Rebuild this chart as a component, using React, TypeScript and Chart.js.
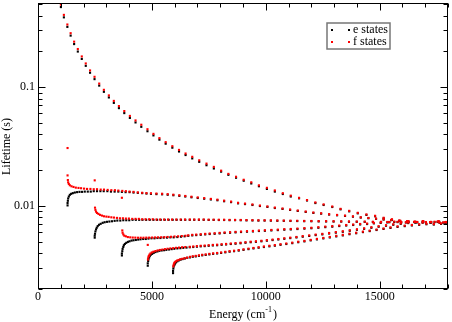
import { useEffect, useRef } from "react";
import { Chart, registerables } from "chart.js";

Chart.register(...registerables);

// ---- axis ticks / labels ----
const xTickLabels = [0, 5000, 10000, 15000];
const yTickLabels = [0.01, 0.1];
const seriesNames = ["e states", "f states"];

// ---- main (descending) branch ----
const mainX = [1005,1136,1289,1433,1586,1748,1922,2097,2285,2482,2687,2892,3111,3329,3552,3788,4033,4282,4535,4806,5068,5330,5605,5898,6191,6479,6772,7078,7397,7720,8039,8358,8694,9031,9363,9699,10049,10398,10748,11097,11460,11810,12177,12539,12919,13282,13662,14038,14418,14798,15174,15541,15903,16270,16650,17030,17410,17790];
const mainEY = [0.471,0.386,0.321,0.271,0.23,0.199,0.1725,0.1509,0.132,0.1166,0.1029,0.0912,0.0818,0.0736,0.0665,0.0604,0.055,0.0504,0.0463,0.0425,0.0392,0.0361,0.0334,0.0309,0.0287,0.0268,0.0251,0.0235,0.022,0.02065,0.01942,0.01827,0.01726,0.0163,0.01545,0.01464,0.0139,0.0132,0.01259,0.012,0.01159,0.01111,0.01057,0.01018,0.00979,0.00936,0.009,0.00866,0.0084,0.00818,0.00787,0.00764,0.00743,0.00735,0.00727,0.00725,0.0073,0.00722];
const mainFY = [0.494,0.405,0.336,0.284,0.241,0.209,0.181,0.158,0.138,0.122,0.107,0.0948,0.0851,0.0765,0.0692,0.0628,0.0572,0.0524,0.0482,0.0442,0.0404,0.0372,0.0344,0.0318,0.0296,0.0276,0.0259,0.0242,0.0227,0.0213,0.0198,0.0186,0.0176,0.0166,0.0158,0.0149,0.0142,0.0135,0.0128,0.0122,0.0117,0.0112,0.0107,0.0103,0.00989,0.00945,0.00909,0.00875,0.00848,0.00826,0.00795,0.00772,0.0075,0.0074,0.00733,0.00731,0.00736,0.00727];

// ---- band 1 ----
const b1EX = [1298,1298,1311,1324,1354,1398,1455,1529,1617,1717,1822,1935,2053,2185,2316,2447,2591,2739,2884,3045,3203,3364,3526,3683,3845,4019,4194,4382,4574,4762,4959,5199,5448,5693,5942,6204,6466,6737,7012,7296,7589,7877,8170,8476,8782,9088,9415,9743,10071,10398,10735,11067,11403,11753,12089,12430,12780,13129,13479,13828,14169,14505,14841,15174,15510,15860,16209,16559,16908,17258,17607,17957];
const b1EY = [0.0101,0.01057,0.01105,0.01155,0.012,0.0124,0.01264,0.01281,0.01296,0.01306,0.01313,0.01313,0.0132,0.0132,0.0132,0.01331,0.01331,0.01331,0.01331,0.01331,0.0132,0.0132,0.0132,0.01313,0.01306,0.01306,0.01296,0.01288,0.01281,0.01271,0.01264,0.01257,0.01252,0.01242,0.0123,0.01216,0.012,0.01182,0.01166,0.0115,0.01133,0.01116,0.01095,0.01076,0.01051,0.01036,0.01018,0.00998,0.00981,0.0096,0.00943,0.00925,0.00907,0.0089,0.00873,0.00861,0.00846,0.00834,0.00824,0.00812,0.00798,0.00788,0.00779,0.00768,0.00759,0.0075,0.00743,0.00734,0.00741,0.00728,0.00736,0.00722];
const b1FHeadX = [1298,1298,1311,1324,1354,1398,1472,1560,1660,1778,1892,2023,2154,2302,2447,2591,2752,2897,3058,3220,3377,3526,3701,3858,4019,4194,4382,4574,4762];
const b1FHeadY = [0.0307,0.01806,0.01651,0.0158,0.0153,0.01492,0.01463,0.01444,0.01425,0.01417,0.01409,0.01398,0.0139,0.0139,0.01382,0.01382,0.01372,0.01372,0.01364,0.01356,0.01356,0.01346,0.01338,0.01331,0.0132,0.01313,0.013,0.0129,0.01281];
const b1FTailFrom = 30;
const b1FTailY = [0.01278,0.01271,0.01266,0.01256,0.01243,0.01229,0.01213,0.01195,0.01179,0.01163,0.01146,0.01129,0.01108,0.01088,0.01063,0.01047,0.01029,0.01008,0.0099,0.00969,0.00951,0.00933,0.00915,0.00897,0.0088,0.00867,0.00852,0.0084,0.00829,0.00817,0.00803,0.00792,0.00783,0.00772,0.00763,0.00754,0.00746,0.00738,0.00745,0.00731,0.0074,0.00726];

// ---- band 2 ----
const b2EX = [2490,2490,2503,2521,2547,2578,2621,2678,2752,2840,2927,3028,3133,3246,3364,3482,3613,3744,3875,4006,4151,4295,4443,4587,4749,4906,5068,5230,5387,5562,5736,5911,6086,6278,6466,6663,6859,7065,7274,7493,7711,7939,8170,8410,8651,8900,9153,9415,9677,9948,10223,10507,10791,11084,11381,11687,12002,12321,12648,12976,13312,13653,13994,14344,14702,15060,15423,15785,16152,16515,16886,17258,17629];
const b2EY = [0.00541,0.00562,0.00583,0.0061,0.00634,0.00655,0.00676,0.00694,0.00707,0.00721,0.00729,0.00735,0.00739,0.00743,0.00749,0.00753,0.00753,0.00758,0.00758,0.00758,0.00764,0.00764,0.00764,0.00764,0.00764,0.00764,0.00764,0.00764,0.00764,0.00764,0.00764,0.00764,0.00764,0.00764,0.00764,0.00764,0.00764,0.00764,0.00764,0.00762,0.00762,0.00761,0.00761,0.00759,0.00759,0.00758,0.00756,0.00755,0.00753,0.00753,0.00752,0.0075,0.00749,0.00747,0.00746,0.00744,0.00743,0.00741,0.0074,0.00739,0.00738,0.00736,0.00735,0.00734,0.00732,0.00731,0.00729,0.00731,0.00725,0.00732,0.00722,0.0073,0.00721];
const b2FHeadX = [2490,2503,2521,2547,2591,2652,2722,2809,2897,3001,3102,3220,3334,3465,3596,3727,3858,3989,4137,4282,4426,4574,4719,4880,5037,5199,5361,5536,5710,5885,6073,6261,6453];
const b2FHeadY = [0.01641,0.00967,0.00927,0.00895,0.00873,0.00857,0.00841,0.00829,0.00818,0.00813,0.00809,0.00802,0.00798,0.00793,0.00787,0.00787,0.00783,0.00783,0.00778,0.00778,0.00778,0.00772,0.00772,0.00772,0.00772,0.00768,0.00768,0.00768,0.00768,0.00768,0.00768,0.00768,0.00768];
const b2FTailFrom = 35;
const b2FTailY = [0.00768,0.00768,0.00768,0.00768,0.00766,0.00766,0.00765,0.00765,0.00763,0.00763,0.00762,0.0076,0.00759,0.00757,0.00757,0.00756,0.00754,0.00753,0.00751,0.0075,0.00748,0.00747,0.00745,0.00744,0.00743,0.00742,0.0074,0.00739,0.00738,0.00736,0.00735,0.00733,0.00735,0.00729,0.00736,0.00726,0.00734,0.00725];

// ---- band 3 ----
const b3EX = [3683,3683,3701,3714,3744,3770,3814,3875,3945,4019,4107,4194,4295,4400,4500,4618,4732,4850,4981,5112,5243,5374,5518,5667,5811,5955,6117,6278,6436,6597,6772,6947,7143,7340,7537,7755,7974,8192,8432,8672,8913,9175,9437,9699,9961,10245,10529,10813,11097,11390,11696,12002,12308,12613,12919,13225,13531,13837,14143,14448,14745,15043,15335,15641,15947,16253,16559,16886,17214,17542,17869];
const b3EY = [0.00383,0.00398,0.00416,0.00435,0.00452,0.00467,0.00479,0.00489,0.00498,0.00504,0.00511,0.00514,0.00517,0.00521,0.00524,0.00527,0.00527,0.00531,0.00534,0.00534,0.00537,0.00537,0.00541,0.00541,0.00544,0.00544,0.00547,0.00551,0.00555,0.0056,0.00565,0.00568,0.00572,0.00576,0.0058,0.00583,0.00587,0.00592,0.00595,0.00599,0.00603,0.00607,0.0061,0.00615,0.00618,0.00622,0.00626,0.00631,0.00634,0.00639,0.00644,0.00649,0.00655,0.00663,0.00669,0.00677,0.00684,0.00691,0.00698,0.00704,0.00713,0.0072,0.00726,0.00732,0.00726,0.00735,0.00725,0.00735,0.00725,0.00732,0.00722];
const b3FHeadX = [3683,3701,3714,3744,3788,3858,3945,4050,4159,4273,4391,4509,4631,4754,4880,5011,5142,5273,5409,5549,5693,5841,5994,6152,6313,6475];
const b3FHeadY = [0.01171,0.00622,0.00595,0.00576,0.00562,0.00555,0.00547,0.00544,0.00542,0.00541,0.0054,0.0054,0.0054,0.00541,0.00541,0.00542,0.00543,0.00544,0.00545,0.00546,0.00548,0.0055,0.00553,0.00555,0.00558,0.00561];
const b3FTailFrom = 29;
const b3FTailY = [0.00566,0.00571,0.00574,0.00578,0.00582,0.00586,0.00589,0.00593,0.00598,0.00601,0.00605,0.00609,0.00613,0.00616,0.00621,0.00624,0.00628,0.00632,0.00637,0.0064,0.00645,0.0065,0.00655,0.00662,0.0067,0.00676,0.00684,0.00691,0.00698,0.00705,0.00711,0.0072,0.00727,0.00733,0.00739,0.00733,0.00742,0.00732,0.00742,0.00732,0.00739,0.00729];

// ---- band 4 ----
const b4EX = [4819,4819,4837,4850,4880,4906,4950,5011,5081,5155,5243,5330,5431,5536,5636,5754,5868,5986,6117,6248,6379,6519,6663,6816,6977,7143,7318,7493,7676,7864,8061,8257,8463,8672,8891,9109,9337,9568,9808,10049,10298,10551,10813,11075,11346,11622,11906,12190,12482,12779,13076,13382,13688,14003,14317,14636,14955,15279,15597,15925,16253,16581,16908,17245,17577,17913];
const b4EY = [0.00314,0.00329,0.00344,0.00357,0.00369,0.00379,0.00388,0.00395,0.00403,0.00409,0.00414,0.00419,0.00422,0.00424,0.00427,0.0043,0.00433,0.00436,0.00439,0.00441,0.00444,0.00446,0.00449,0.00451,0.00454,0.00457,0.00459,0.00462,0.00465,0.00467,0.00471,0.00474,0.00478,0.00481,0.00485,0.0049,0.00495,0.00499,0.00504,0.0051,0.00516,0.00522,0.00529,0.00536,0.00543,0.00551,0.00559,0.00568,0.00576,0.00586,0.00596,0.00606,0.00618,0.0063,0.00642,0.00655,0.00668,0.00681,0.00694,0.00707,0.00717,0.00725,0.00733,0.00725,0.00735,0.00726];
const b4FHeadX = [4819,4828,4841,4863,4893,4937,4994,5068,5155,5252,5352,5461,5571,5689,5811,5933,6060,6191,6326,6466];
const b4FHeadY = [0.0047,0.00354,0.00368,0.00379,0.00389,0.00398,0.00406,0.00412,0.00417,0.00422,0.00426,0.00429,0.00433,0.00436,0.00439,0.00441,0.00444,0.00446,0.00449,0.00451];
const b4FTailFrom = 22;
const b4FTailY = [0.00453,0.00456,0.00459,0.00462,0.00464,0.00467,0.0047,0.00472,0.00476,0.00479,0.00483,0.00486,0.0049,0.00495,0.005,0.00504,0.00509,0.00515,0.00521,0.00527,0.00534,0.00541,0.00548,0.00557,0.00565,0.00574,0.00582,0.00592,0.00602,0.00612,0.00624,0.00636,0.00648,0.00662,0.00675,0.00688,0.00701,0.00714,0.00724,0.00732,0.0074,0.00732,0.00742,0.00733];

// ---- band 5 ----
const b5EX = [5929,5929,5942,5955,5986,6016,6060,6117,6182,6261,6348,6444,6554,6671,6794,6925,7065,7209,7362,7523,7689,7864,8039,8223,8411,8607,8812,9022,9240,9459,9686,9918,10158,10398,10647,10901,11163,11425,11696,11971,12246,12526,12810,13094,13382,13675,13968,14265,14562,14863,15169,15475,15785,16100,16414,16733,17052,17376,17694];
const b5EY = [0.00272,0.00284,0.00297,0.00309,0.00318,0.00327,0.00335,0.00342,0.00348,0.00353,0.00357,0.00361,0.00366,0.00369,0.00373,0.00376,0.0038,0.00384,0.00387,0.00391,0.00395,0.00398,0.00402,0.00407,0.00412,0.00416,0.00421,0.00427,0.00433,0.00439,0.00445,0.00451,0.00457,0.00463,0.00471,0.00478,0.00486,0.00495,0.00503,0.00513,0.00523,0.00533,0.00543,0.00554,0.00565,0.00578,0.00589,0.00602,0.00614,0.00627,0.0064,0.00653,0.00666,0.00676,0.00685,0.00694,0.00701,0.00697,0.00706];
const b5FHeadX = [5942,5955,5977,6008,6051,6108,6174,6248,6335,6431,6541];
const b5FHeadY = [0.0031,0.0032,0.00329,0.00336,0.00342,0.00347,0.00351,0.00356,0.00359,0.00363,0.00367];
const b5FTailFrom = 13;
const b5FTailY = [0.00373,0.00377,0.0038,0.00384,0.00388,0.00391,0.00395,0.00399,0.00402,0.00406,0.00411,0.00416,0.0042,0.00425,0.00431,0.00437,0.00443,0.00449,0.00456,0.00462,0.00468,0.00476,0.00483,0.00491,0.005,0.00508,0.00518,0.00528,0.00538,0.00548,0.0056,0.00571,0.00584,0.00595,0.00608,0.0062,0.00633,0.00646,0.0066,0.00673,0.00683,0.00692,0.00701,0.00708,0.00704,0.00713];

type Pt = { x: number; y: number };
function zip(xs: number[], ys: number[]): Pt[] {
  const n = Math.min(xs.length, ys.length);
  const out: Pt[] = [];
  for (let i = 0; i < n; i++) out.push({ x: xs[i], y: ys[i] });
  return out;
}
function band(ex: number[], headX: number[], headY: number[], from: number, tailY: number[]): Pt[] {
  return [...zip(headX, headY), ...zip(ex.slice(from), tailY)];
}

const ePoints: Pt[] = [
  ...zip(mainX, mainEY),
  ...zip(b1EX, b1EY),
  ...zip(b2EX, b2EY),
  ...zip(b3EX, b3EY),
  ...zip(b4EX, b4EY),
  ...zip(b5EX, b5EY),
];
const fPoints: Pt[] = [
  ...zip(mainX, mainFY),
  ...band(b1EX, b1FHeadX, b1FHeadY, b1FTailFrom, b1FTailY),
  ...band(b2EX, b2FHeadX, b2FHeadY, b2FTailFrom, b2FTailY),
  ...band(b3EX, b3FHeadX, b3FHeadY, b3FTailFrom, b3FTailY),
  ...band(b4EX, b4FHeadX, b4FHeadY, b4FTailFrom, b4FTailY),
  ...band(b5EX, b5FHeadX, b5FHeadY, b5FTailFrom, b5FTailY),
];

const FONT = '"Liberation Serif", "Times New Roman", serif';
const E_COLOR = "#000000";
const F_COLOR = "#ff0000";

const decorPlugin = {
  id: "decor",
  afterDraw(chart: any) {
    const { ctx, chartArea: a, scales } = chart;
    const xs = scales.x;
    const ys = scales.y;
    const L = Math.round(a.left) + 0.5;
    const R = Math.round(a.right) - 0.5;
    const T = Math.round(a.top) - 0.5;
    const B = Math.round(a.bottom) - 0.5;
    ctx.save();
    ctx.strokeStyle = "#000";
    ctx.lineWidth = 1;
    ctx.strokeRect(L, T, R - L, B - T);
    ctx.beginPath();
    for (let v = 0; v <= 18000; v += 1000) {
      const px = Math.round(xs.getPixelForValue(v)) + 0.5;
      const len = v % 5000 === 0 ? 7 : 4;
      ctx.moveTo(px, B);
      ctx.lineTo(px, B - len);
      ctx.moveTo(px, T);
      ctx.lineTo(px, T + len);
    }
    for (const dec of [0.001, 0.01, 0.1]) {
      for (let m = 1; m <= 9; m++) {
        const v = m * dec;
        if (v < 0.002 - 1e-9 || v > 0.5 + 1e-9) continue;
        const py = Math.round(ys.getPixelForValue(v)) + 0.5;
        const len = m === 1 ? 7 : 4;
        ctx.moveTo(L, py);
        ctx.lineTo(L + len, py);
        ctx.moveTo(R, py);
        ctx.lineTo(R - len, py);
      }
    }
    ctx.stroke();

    // axis titles
    ctx.fillStyle = "#000";
    ctx.textBaseline = "alphabetic";
    ctx.font = `12px ${FONT}`;
    const p1 = "Energy (cm";
    const p3 = ")";
    const w1 = ctx.measureText(p1).width;
    const w3 = ctx.measureText(p3).width;
    ctx.font = `8px ${FONT}`;
    const p2 = "-1";
    const w2 = ctx.measureText(p2).width;
    const cx = (a.left + a.right) / 2;
    let sx = cx - (w1 + w2 + w3 + 1) / 2;
    const by = 317.5;
    ctx.font = `12px ${FONT}`;
    ctx.textAlign = "left";
    ctx.fillText(p1, sx, by);
    sx += w1;
    ctx.font = `8px ${FONT}`;
    ctx.fillText(p2, sx, by - 5.5);
    sx += w2 + 1;
    ctx.font = `12px ${FONT}`;
    ctx.fillText(p3, sx, by);

    ctx.save();
    ctx.translate(9.5, (a.top + a.bottom) / 2);
    ctx.rotate(-Math.PI / 2);
    ctx.textAlign = "center";
    ctx.fillText("Lifetime (s)", 0, 0);
    ctx.restore();

    // legend
    ctx.strokeStyle = "#777";
    ctx.lineWidth = 1.5;
    ctx.strokeRect(327, 23, 63, 26);
    const rows = [
      { label: seriesNames[0], color: E_COLOR, y: 29.5 },
      { label: seriesNames[1], color: F_COLOR, y: 42 },
    ];
    ctx.textBaseline = "middle";
    ctx.textAlign = "left";
    ctx.font = `12px ${FONT}`;
    for (const r of rows) {
      ctx.fillStyle = r.color;
      ctx.fillRect(331, Math.round(r.y) - 1, 2, 2);
      ctx.fillRect(348, Math.round(r.y) - 1, 2, 2);
      ctx.fillStyle = "#000";
      ctx.fillText(r.label, 353, r.y);
    }
    ctx.restore();
  },
};

export default function App() {
  const ref = useRef<HTMLCanvasElement | null>(null);
  useEffect(() => {
    if (!ref.current) return;
    const chart = new Chart(ref.current, {
      type: "scatter",
      data: {
        datasets: [
          {
            label: seriesNames[0],
            data: ePoints,
            backgroundColor: E_COLOR,
            borderWidth: 0,
            pointStyle: "rect",
            pointRadius: 1.5,
            showLine: false,
            order: 1,
          },
          {
            label: seriesNames[1],
            data: fPoints,
            backgroundColor: F_COLOR,
            borderWidth: 0,
            pointStyle: "rect",
            pointRadius: 1.5,
            showLine: false,
            order: 0,
          },
        ],
      },
      options: {
        animation: false,
        responsive: false,
        devicePixelRatio: 1,
        events: [],
        layout: { padding: { top: 1, right: 2, left: 0, bottom: 0 } },
        plugins: { legend: { display: false }, tooltip: { enabled: false } },
        scales: {
          x: {
            type: "linear",
            min: 0,
            max: 18000,
            border: { display: false },
            grid: { display: false, drawTicks: false },
            afterBuildTicks: (s: any) => {
              s.ticks = xTickLabels.map((v) => ({ value: v }));
            },
            afterFit: (s: any) => {
              s.height = 33;
              s.paddingLeft = 0;
              s.paddingRight = 0;
            },
            ticks: {
              autoSkip: false,
              maxRotation: 0,
              padding: 1,
              color: "#000",
              font: { family: FONT, size: 12 },
              callback: (v: any) => String(v),
            },
          },
          y: {
            type: "logarithmic",
            min: 0.002,
            max: 0.5,
            border: { display: false },
            grid: { display: false, drawTicks: false },
            afterBuildTicks: (s: any) => {
              s.ticks = yTickLabels.map((v) => ({ value: v }));
            },
            afterFit: (s: any) => {
              s.width = 38;
              s.paddingTop = 0;
              s.paddingBottom = 0;
            },
            ticks: {
              autoSkip: false,
              padding: 3,
              color: "#000",
              font: { family: FONT, size: 12 },
              callback: (v: any) => String(v),
            },
          },
        },
      },
      plugins: [decorPlugin],
    });
    return () => chart.destroy();
  }, []);
  return (
    <div style={{ position: "absolute", left: 0, top: 0, width: 452, height: 322, background: "#fff" }}>
      <canvas ref={ref} width={452} height={322} style={{ width: 452, height: 322, display: "block" }} />
    </div>
  );
}
